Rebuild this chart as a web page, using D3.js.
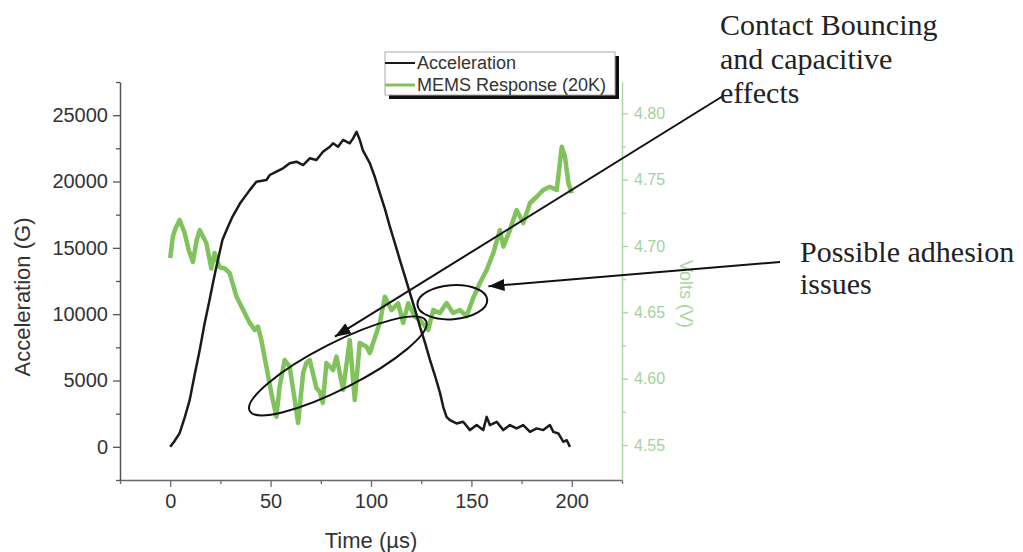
<!DOCTYPE html>
<html>
<head>
<meta charset="utf-8">
<script src="https://cdnjs.cloudflare.com/ajax/libs/d3/7.8.5/d3.min.js"></script>
<style>
  body { margin: 0; background: #fff; }
  svg { display: block; }
  .tick text { font-family: "Liberation Sans", Arial, sans-serif; }
</style>
</head>
<body>
<div id="chart"></div>
<script>

// acceleration trace (time in us, G)
var accTime = [0, 2, 4.7, 7, 9.7, 12, 14.7, 17, 19.6, 21.5, 23, 26, 28.5, 31, 35, 39.6, 42.9, 47.9, 49.6, 52.9, 56.2, 59.5, 62.9, 66.2, 69.5, 72.8, 76.1, 79.5, 81.1, 83.6, 86.1, 89.4, 91.1, 92.8,
  94.5, 95.9, 99.4, 102, 104.4, 107, 109.4, 112, 114.4, 117, 119.4, 122, 124.4, 127, 129.4, 132, 134.4, 136, 137.6, 139.3, 142.6, 145.9, 149.3, 152.6, 155.9, 157.6, 159.2, 162.6, 165.9, 169.2, 172.5, 175.8, 179.2, 182.5, 185.8, 189.1, 190.8, 193.3, 195.8, 197.5, 199.1];
var accValues = [0, 400, 1030, 2100, 3520, 5300, 7290, 9200, 11060, 12500, 13570, 15590, 16500, 17340, 18400, 19350, 19980, 20110, 20490, 20740, 20990, 21370, 21490, 21240, 21750, 21620, 22240, 22620, 22880, 22620, 23130, 22880, 23250, 23750,
  23100, 22370, 21390, 20300, 19130, 17900, 16590, 15300, 14080, 12800, 11590, 10300, 9050, 7800, 6540, 5300, 4050, 3000, 2260, 2010, 1760, 1890, 1260, 1640, 1260, 2260, 1640, 1890, 1260, 1640, 1390, 1640, 1130, 1390, 1260, 1640, 1130, 1010, 380, 500, 0];

// MEMS response trace (time in us, volts)
var memsTime = [0, 1.3, 2.7, 4.7, 7.2, 9.2, 11.3, 13.2, 14.7, 16.2, 18, 20.5, 22.1, 24.6, 27.1, 29.6, 33, 35.1, 37.1, 39.6, 42.1, 43.7, 45.4, 47.9, 50.4, 52.9, 54.5, 57, 59.5, 62, 63.7, 66.2, 67.8, 69.5, 72.8, 74.5, 76, 77.8, 81.1, 82.8, 86.1, 89.4, 91.9, 94.4, 97.8, 99.4,
  102.7, 104.4, 106.9, 110.2, 113.5, 116, 118.5, 121.8, 124.3, 128.5, 131, 134.3, 137.6, 140.9, 144.3, 147.6, 150.9, 154.2, 157.6, 160.9, 164.2, 165.9, 169.2, 172.5, 175.8, 179.2, 182.5, 185.8, 189.1, 192.5, 195, 196.6, 198.3, 200];
var memsValues = [4.691, 4.707, 4.7135, 4.7196, 4.7098, 4.697, 4.688, 4.7045, 4.712, 4.7075, 4.702, 4.683, 4.6947, 4.684, 4.683, 4.6796, 4.6618, 4.6555, 4.6495, 4.642, 4.6367, 4.6392, 4.629, 4.609, 4.589, 4.5713, 4.594, 4.614, 4.609, 4.584, 4.5666, 4.6043, 4.6118, 4.614, 4.593, 4.59, 4.5817, 4.6118, 4.6065, 4.6166, 4.5915, 4.6291, 4.5839, 4.6269, 4.6241, 4.6193,
  4.6344, 4.642, 4.6618, 4.6517, 4.6568, 4.642, 4.6568, 4.6467, 4.6442, 4.6367, 4.6517, 4.6495, 4.657, 4.6495, 4.6517, 4.6472, 4.6608, 4.6721, 4.6819, 4.6947, 4.712, 4.6995, 4.712, 4.7271, 4.7173, 4.7324, 4.7371, 4.7422, 4.7447, 4.7422, 4.7748, 4.7673, 4.7475, 4.7397];

var xTicks = [0, 50, 100, 150, 200];
var xMinorTicks = [-25, 25, 75, 125, 175, 225];
var accTicks = [0, 5000, 10000, 15000, 20000, 25000];
var accMinorTicks = [-2500, 2500, 7500, 12500, 17500, 22500, 27500];
var voltTicks = [4.55, 4.60, 4.65, 4.70, 4.75, 4.80];
var voltMinorTicks = [4.575, 4.625, 4.675, 4.725, 4.775];
var seriesNames = ["Acceleration", "MEMS Response (20K)"];

var width = 1023,
    height = 552,
    black = "#1a1a1a",
    green = "#80c25c",
    lightGreen = "#a9d9a0";

var svg = d3.select("#chart").append("svg")
    .attr("width", width)
    .attr("height", height);

var x = d3.scaleLinear().domain([-25, 225]).range([120, 622]);
var yAcc = d3.scaleLinear().domain([-2500, 27500]).range([480, 82]);
var yVolt = d3.scaleLinear().domain([4.5236, 4.8236]).range([480, 82]);

// axes
function styleAxis(g, col, txtCol, size) {
  g.select(".domain").attr("stroke", col).attr("stroke-width", 1.5);
  g.selectAll(".tick line").attr("stroke", col).attr("stroke-width", 1.3);
  g.selectAll(".tick text").attr("fill", txtCol).attr("font-size", size);
}

var gx = svg.append("g")
    .attr("transform", "translate(0,480)")
    .call(d3.axisBottom(x).tickValues(xTicks).tickSize(7).tickSizeOuter(0).tickPadding(7));
styleAxis(gx, "#6d6670", "#333", 20);
svg.append("g")
    .attr("transform", "translate(0,480)")
    .call(d3.axisBottom(x).tickValues(xMinorTicks).tickSize(4).tickFormat(""))
    .call(function(g){ g.select(".domain").remove(); g.selectAll("line").attr("stroke", "#6d6670").attr("stroke-width", 1.3); });

var gl = svg.append("g")
    .attr("transform", "translate(120,0)")
    .call(d3.axisLeft(yAcc).tickValues(accTicks).tickSize(7).tickSizeOuter(0).tickPadding(5).tickFormat(d3.format("d")));
styleAxis(gl, "#555", "#333", 20);
svg.append("g")
    .attr("transform", "translate(120,0)")
    .call(d3.axisLeft(yAcc).tickValues(accMinorTicks).tickSize(4).tickFormat(""))
    .call(function(g){ g.select(".domain").remove(); g.selectAll("line").attr("stroke", "#555").attr("stroke-width", 1.3); });

var gr = svg.append("g")
    .attr("transform", "translate(622,0)")
    .call(d3.axisRight(yVolt).tickValues(voltTicks).tickSize(6).tickSizeOuter(0).tickPadding(6).tickFormat(d3.format(".2f")));
styleAxis(gr, lightGreen, "#a3d39b", 16);
svg.append("g")
    .attr("transform", "translate(622,0)")
    .call(d3.axisRight(yVolt).tickValues(voltMinorTicks).tickSize(4).tickFormat(""))
    .call(function(g){ g.select(".domain").remove(); g.selectAll("line").attr("stroke", lightGreen).attr("stroke-width", 1.3); });

// axis titles
svg.append("text")
    .attr("transform", "translate(30,297) rotate(-90)")
    .attr("text-anchor", "middle")
    .attr("font-family", "Liberation Sans, Arial, sans-serif")
    .attr("font-size", 22)
    .attr("fill", "#333")
    .text("Acceleration (G)");

svg.append("text")
    .attr("x", 371)
    .attr("y", 548)
    .attr("text-anchor", "middle")
    .attr("font-family", "Liberation Sans, Arial, sans-serif")
    .attr("font-size", 22)
    .attr("fill", "#333")
    .text("Time (\u00b5s)");

svg.append("text")
    .attr("transform", "translate(680,294) rotate(90)")
    .attr("text-anchor", "middle")
    .attr("font-family", "Liberation Sans, Arial, sans-serif")
    .attr("font-size", 18)
    .attr("fill", "#a6d89e")
    .text("Volts (V)");

// series
var accLine = d3.line()
    .x(function(d, i) { return x(accTime[i]); })
    .y(function(d) { return yAcc(d); });

var memsLine = d3.line()
    .x(function(d, i) { return x(memsTime[i]); })
    .y(function(d) { return yVolt(d); });

svg.append("path")
    .attr("d", memsLine(memsValues))
    .attr("fill", "none")
    .attr("stroke", green)
    .attr("stroke-width", 4.5)
    .attr("stroke-linejoin", "round");

svg.append("path")
    .attr("d", accLine(accValues))
    .attr("fill", "none")
    .attr("stroke", black)
    .attr("stroke-width", 2.5)
    .attr("stroke-linejoin", "round");

// legend
var legend = svg.append("g").attr("transform", "translate(385,52)");
legend.append("rect").attr("x", 4).attr("y", 4).attr("width", 230).attr("height", 43).attr("fill", "#111");
legend.append("rect").attr("width", 230).attr("height", 43).attr("fill", "#fff").attr("stroke", "#aaa").attr("stroke-width", 1);
seriesNames.forEach(function(name, i) {
  legend.append("line")
    .attr("x1", 0).attr("x2", 30)
    .attr("y1", 11 + i * 22).attr("y2", 11 + i * 22)
    .attr("stroke", i ? green : black)
    .attr("stroke-width", i ? 3 : 2);
  legend.append("text")
    .attr("x", 32)
    .attr("y", 17 + i * 22)
    .attr("font-family", "Liberation Sans, Arial, sans-serif")
    .attr("font-size", 18)
    .attr("fill", "#333")
    .text(name);
});

// annotations
var defs = svg.append("defs");
defs.append("marker")
    .attr("id", "arrow")
    .attr("viewBox", "0 -6 16 12")
    .attr("refX", 16)
    .attr("refY", 0)
    .attr("markerWidth", 16)
    .attr("markerHeight", 12)
    .attr("markerUnits", "userSpaceOnUse")
    .attr("orient", "auto")
  .append("path")
    .attr("d", "M0,-6L16,0L0,6Z")
    .attr("fill", "#111");

var ann = svg.append("g").attr("fill", "none").attr("stroke", "#111").attr("stroke-width", 2);

ann.append("line")
    .attr("x1", 723).attr("y1", 96)
    .attr("x2", x(82)).attr("y2", yAcc(8300))
    .attr("marker-end", "url(#arrow)");

ann.append("line")
    .attr("x1", 780).attr("y1", 262)
    .attr("x2", x(158.5)).attr("y2", yAcc(12100))
    .attr("marker-end", "url(#arrow)");

ann.append("ellipse")
    .attr("transform", "translate(" + x(83.5) + "," + yAcc(6100) + ") rotate(-27)")
    .attr("rx", 99)
    .attr("ry", 23);

ann.append("ellipse")
    .attr("transform", "translate(" + x(140.5) + "," + yAcc(10900) + ") rotate(-4)")
    .attr("rx", 35)
    .attr("ry", 17);

var notes = svg.append("g")
    .attr("font-family", "Liberation Serif, Times New Roman, serif")
    .attr("font-size", 30)
    .attr("fill", "#222");
["Contact Bouncing", "and capacitive", "effects"].forEach(function(t, i) {
  notes.append("text").attr("x", 720).attr("y", 35 + i * 34).text(t);
});
["Possible adhesion", "issues"].forEach(function(t, i) {
  notes.append("text").attr("x", 800).attr("y", 262 + i * 32).text(t);
});

</script>
</body>
</html>
